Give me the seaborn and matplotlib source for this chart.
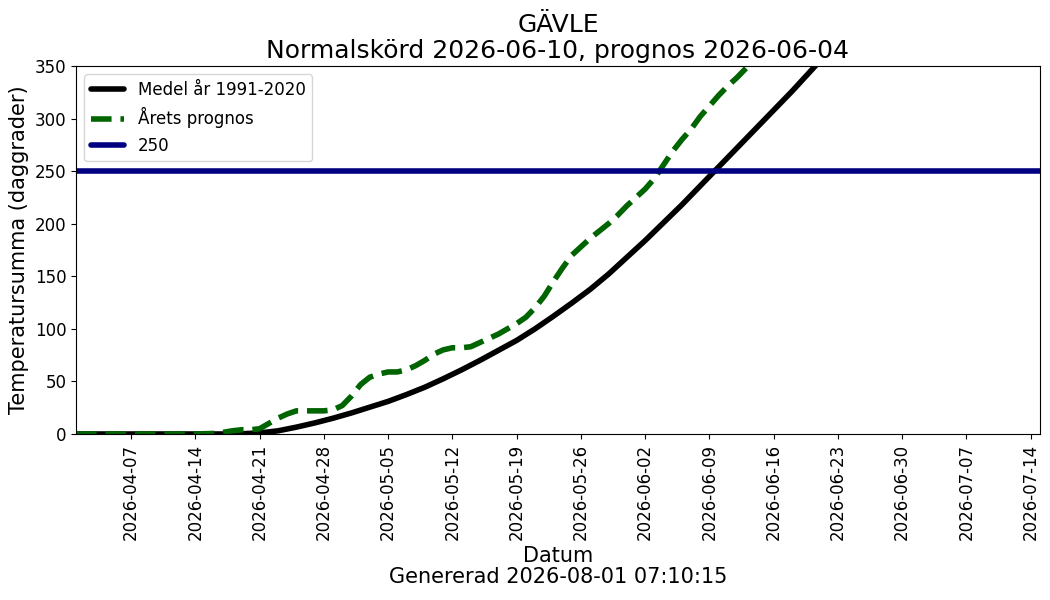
import matplotlib
matplotlib.use("Agg")
import matplotlib.pyplot as plt
import matplotlib.dates as mdates
import seaborn as sns
import pandas as pd
import numpy as np

# Mean curve (1991-2020), dates and values
mean_dates = ["2026-04-01", "2026-04-10", "2026-04-17", "2026-04-19", "2026-04-21",
              "2026-04-23", "2026-04-25", "2026-04-27", "2026-04-29", "2026-05-01",
              "2026-05-03", "2026-05-05", "2026-05-07", "2026-05-09", "2026-05-11",
              "2026-05-13", "2026-05-15", "2026-05-17", "2026-05-19", "2026-05-21",
              "2026-05-23", "2026-05-25", "2026-05-27", "2026-05-29", "2026-05-31",
              "2026-06-02", "2026-06-04", "2026-06-06", "2026-06-08", "2026-06-10",
              "2026-06-12", "2026-06-14", "2026-06-16", "2026-06-18", "2026-06-20",
              "2026-06-22", "2026-06-24"]
mean_values = [0, 0, 0, 0.2, 1,
               3, 6.5, 10.5, 15, 20,
               25.5, 31, 37.5, 44.5, 52.5,
               61, 70, 79.5, 89, 100,
               112, 124.5, 137.5, 152, 168,
               184, 201, 218, 236, 254,
               272, 290, 308, 326, 345,
               364, 383]

# This year's forecast
fc_dates = ["2026-04-01", "2026-04-08", "2026-04-14", "2026-04-16", "2026-04-17",
            "2026-04-18", "2026-04-19", "2026-04-20", "2026-04-21", "2026-04-22",
            "2026-04-23", "2026-04-24", "2026-04-25", "2026-04-26", "2026-04-27",
            "2026-04-28", "2026-04-29", "2026-04-30", "2026-05-01", "2026-05-02",
            "2026-05-03", "2026-05-04", "2026-05-05", "2026-05-06", "2026-05-07",
            "2026-05-08", "2026-05-09", "2026-05-10", "2026-05-11", "2026-05-12",
            "2026-05-13", "2026-05-14", "2026-05-15", "2026-05-16", "2026-05-17",
            "2026-05-18", "2026-05-19", "2026-05-20", "2026-05-21", "2026-05-22",
            "2026-05-23", "2026-05-24", "2026-05-25", "2026-05-26", "2026-05-27",
            "2026-05-28", "2026-05-29", "2026-05-30", "2026-05-31", "2026-06-01",
            "2026-06-02", "2026-06-03", "2026-06-04", "2026-06-05", "2026-06-06",
            "2026-06-07", "2026-06-08", "2026-06-09", "2026-06-10", "2026-06-11",
            "2026-06-12", "2026-06-13", "2026-06-14", "2026-06-15"]
fc_values = [0, 0, 0, 0.5, 1.5,
             3, 4, 4, 5, 10,
             15, 19, 22, 22, 22,
             22, 23, 27, 36, 47,
             54, 57, 59, 59, 61,
             65, 70, 76, 80, 82,
             82, 83, 87, 91, 95,
             100, 105, 111, 120, 131,
             145, 158, 170, 178, 186,
             193, 200, 208, 217, 225,
             233, 243, 256, 269, 280,
             290, 302, 312, 322, 331,
             339, 348, 357, 365]

threshold = 250
title_text = "GÄVLE\nNormalskörd 2026-06-10, prognos 2026-06-04"
xlabel_text = "Datum\nGenererad 2026-08-01 07:10:15"
ylabel_text = "Temperatursumma (daggrader)"
labels = ["Medel år 1991-2020", "Årets prognos", "250"]

sns.set_style("ticks", {"text.color": "black", "axes.labelcolor": "black",
                        "xtick.color": "black", "ytick.color": "black",
                        "axes.edgecolor": "black"})
plt.rcParams['font.family'] = ['DejaVu Sans']

df_mean = pd.DataFrame({"Datum": pd.to_datetime(mean_dates), "v": mean_values})
df_fc = pd.DataFrame({"Datum": pd.to_datetime(fc_dates), "v": fc_values})

fig = plt.figure(figsize=(10.5, 6), dpi=100)
ax = fig.add_axes([0.0724, 0.2767, 0.918, 0.6133])

sns.lineplot(data=df_mean, x="Datum", y="v", ax=ax, color="black", lw=4, label=labels[0])
sns.lineplot(data=df_fc, x="Datum", y="v", ax=ax, color="#006400", lw=4,
             linestyle="--", label=labels[1])
ax.axhline(threshold, color="#000080", lw=4, label=labels[2])

ax.set_xlim(pd.Timestamp("2026-04-01"), pd.Timestamp("2026-07-15"))
ax.set_ylim(0, 350)
ax.set_yticks(np.arange(0, 351, 50))
ax.set_xticks(pd.date_range("2026-04-07", "2026-07-14", freq="7D"))
ax.xaxis.set_major_formatter(mdates.DateFormatter("%Y-%m-%d"))
ax.tick_params(axis="x", labelrotation=90, labelsize=12)
ax.tick_params(axis="y", labelsize=12)

ax.set_title(title_text, fontsize=18, linespacing=1.1)
ax.set_xlabel(xlabel_text, fontsize=15, linespacing=1.1)
ax.set_ylabel(ylabel_text, fontsize=15)
ax.legend(loc="upper left", fontsize=12, frameon=True)

fig.savefig("out.png", dpi=100)
